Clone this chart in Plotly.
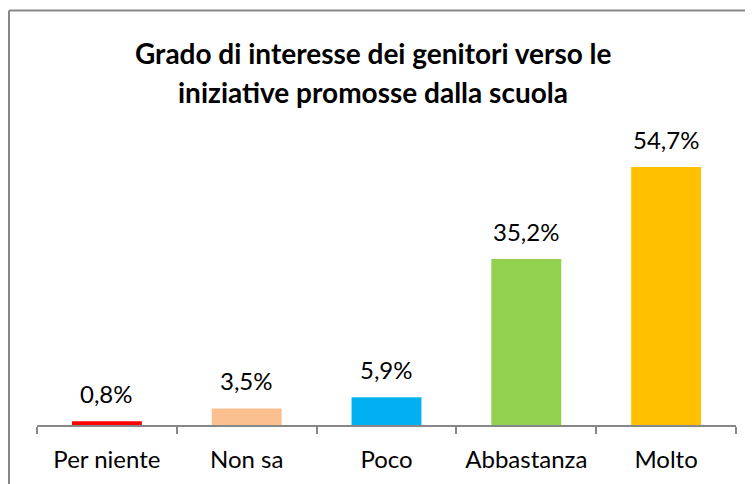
import plotly.graph_objects as go

categories = ["Per niente", "Non sa", "Poco", "Abbastanza", "Molto"]
values = [0.8, 3.5, 5.9, 35.2, 54.7]
colors = ["#FF0000", "#FAC090", "#00B0F0", "#92D050", "#FFC000"]
title_lines = ["Grado di interesse dei genitori verso le", "iniziative promosse dalla scuola"]

# figure sits at (8, 8) inside the page because of the default body margin
W, H = 745, 476
L, R, T, B = 29, 17, 112, 59
plot_h = H - T - B
plot_w = W - L - R
px_per_unit = 258 / 54.7
ymax = plot_h / px_per_unit

FONT = "Lato"

fig = go.Figure()
fig.add_trace(go.Bar(
    x=categories, y=values, marker=dict(color=colors, line=dict(width=0)),
    width=0.5, showlegend=False, hoverinfo="skip",
))

for c, v in zip(categories, values):
    fig.add_annotation(
        x=c, y=v, text=f"{v:.1f}%".replace(".", ","), showarrow=False,
        yanchor="bottom", yshift=11, font=dict(family=FONT, size=24, color="#000"),
    )

# title as two lines
for line, ypix in zip(title_lines, [45, 84]):
    fig.add_annotation(
        xref="paper", yref="paper", x=(365 - L) / plot_w, y=(H - B - ypix) / plot_h,
        xanchor="center", yanchor="middle", text=f"<b>{line}</b>", showarrow=False,
        font=dict(family=FONT, size=28, color="#000"),
    )

# chart border (left and top edges visible)
bx = (1 - L) / plot_w
by = (H - B - 2.5) / plot_h
fig.add_shape(type="line", xref="paper", yref="paper", x0=bx, x1=bx, y0=-1, y1=by,
              line=dict(color="#878787", width=2))
fig.add_shape(type="line", xref="paper", yref="paper", x0=bx, x1=2, y0=by, y1=by,
              line=dict(color="#878787", width=2))

fig.update_layout(
    width=W, height=H,
    margin=dict(l=L, r=R, t=T, b=B),
    paper_bgcolor="white", plot_bgcolor="white",
    xaxis=dict(showline=True, linecolor="#878787", linewidth=2, ticks="outside",
               tickson="boundaries", ticklen=7, tickcolor="#878787", tickwidth=2,
               ticklabelstandoff=12,
               tickfont=dict(family=FONT, size=24, color="#000"), showgrid=False,
               range=[-0.5, 4.5]),
    yaxis=dict(visible=False, range=[0, ymax], showgrid=False, zeroline=False),
    bargap=0.5,
)

fig.write_html("out.html")
